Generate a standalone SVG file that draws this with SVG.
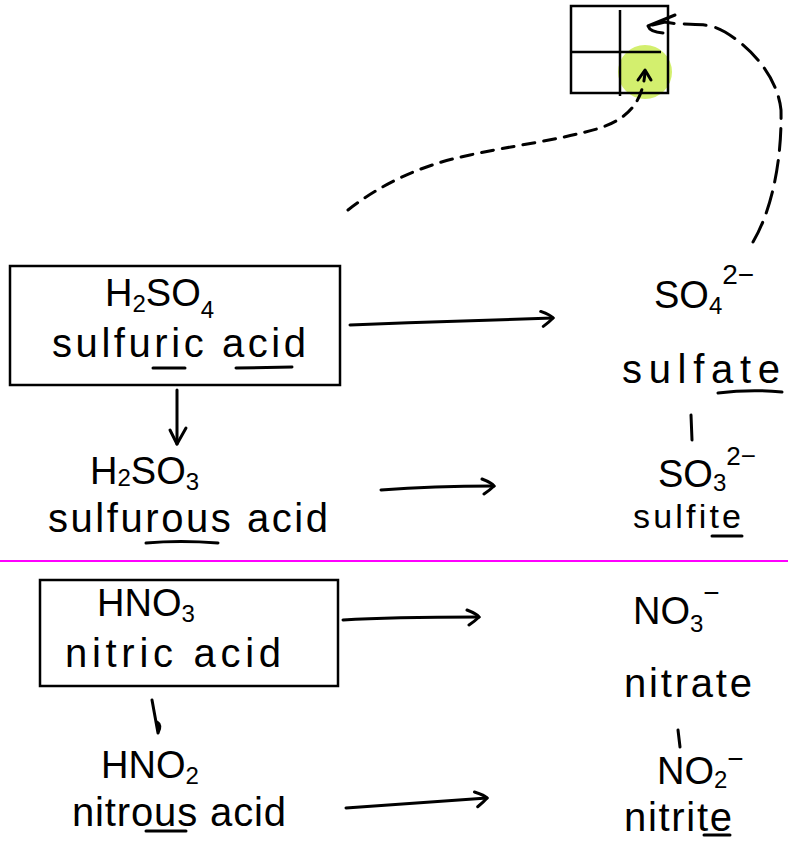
<svg xmlns="http://www.w3.org/2000/svg" width="788" height="845" viewBox="0 0 788 845">
<style>
.ln{fill:none;stroke:#000;stroke-width:3;stroke-linecap:round;stroke-linejoin:round}
.box{fill:#fff;stroke:#000;stroke-width:2.5}
.t{font-family:"Liberation Sans","DejaVu Sans",sans-serif;fill:#000}
.big{font-size:38px}
.wd{font-size:40px}
.sm{font-size:24px}
.ul{fill:none;stroke:#000;stroke-width:3;stroke-linecap:round}
</style>
<defs>
<marker id="ah" viewBox="-14 -10 16 20" markerWidth="16" markerHeight="20" refX="0" refY="0" orient="auto" markerUnits="userSpaceOnUse">
<path d="M-12,-7 Q-2,-3 0,0 Q-4,4 -10,8" fill="none" stroke="#000" stroke-width="3" stroke-linecap="round"/>
</marker>
</defs>
<rect width="788" height="845" fill="#fff"/>

<g id="grid">
<circle cx="645" cy="72" r="27" fill="#d3ef6e"/>
<rect x="571" y="6" width="97" height="87" fill="none" stroke="#000" stroke-width="2.5"/>
<line x1="620" y1="10" x2="620" y2="96" stroke="#000" stroke-width="2.5"/>
<line x1="571" y1="52" x2="661" y2="52" stroke="#000" stroke-width="2.5"/>
</g>

<g id="connectors">
<path class="ln" d="M348,210 C380,185 420,165 470,155 C510,146 560,140 600,128 C630,118 643,100 645,72" stroke-dasharray="12,9"/>
<path class="ln" d="M638,80 L645,70 L651,80"/>
<path class="ln" d="M753,242 C772,210 782,160 781,110 C778,80 755,50 725,32 C705,20 690,27 665,22 L648,26" stroke-dasharray="22,10"/>
<path class="ln" d="M675,15 L648,26 Q650,32 663,33"/>
<path class="ln" d="M350,325 C420,322 500,320 553,318" marker-end="url(#ah)"/>
<path class="ln" d="M177,390 L177,444"/>
<path class="ln" d="M170,430 L177,444 L186,428"/>
<path class="ln" d="M381,490 C420,487 460,486 494,486" marker-end="url(#ah)"/>
<path class="ln" d="M691,415 L692,440"/>
<path class="ln" d="M343,620 C390,617 440,617 479,617" marker-end="url(#ah)"/>
<path class="ln" d="M152,700 L158,733 Q162,725 157,722"/>
<path class="ln" d="M678,730 L680,747"/>
<path class="ln" d="M346,808 C400,804 450,801 487,798" marker-end="url(#ah)"/>
</g>

<line x1="0" y1="561" x2="788" y2="561" stroke="#ff00ff" stroke-width="2"/>

<g id="h2so4">
<rect class="box" x="10" y="266" width="330" height="119"/>
<text class="t big" x="105" y="306">H<tspan class="sm" dy="6">2</tspan><tspan dy="-6">SO</tspan><tspan class="sm" dy="12">4</tspan></text>
<text class="t wd" x="52" y="357" textLength="254">sulfuric acid</text>
<path class="ul" d="M153,368 L185,368 M236,368 L292,367"/>
</g>

<g id="so4">
<text class="t big" x="654" y="308">SO<tspan class="sm" dy="6">4</tspan><tspan style="font-size:28px" dy="-30">2−</tspan></text>
<text class="t wd" x="622" y="383" textLength="158">sulfate</text>
<path class="ul" d="M718,393 Q750,389 782,392"/>
</g>

<g id="h2so3">
<text class="t big" x="90" y="484">H<tspan class="sm" dy="2">2</tspan><tspan dy="-2">SO</tspan><tspan class="sm" dy="6">3</tspan></text>
<text class="t wd" x="48" y="532" textLength="280">sulfurous acid</text>
<path class="ul" d="M146,543 Q180,540 218,543"/>
</g>

<g id="so3">
<text class="t big" x="658" y="487">SO<tspan class="sm" dy="4">3</tspan><tspan style="font-size:26px" dy="-26">2−</tspan></text>
<text class="t" style="font-size:34px" x="633" y="528" textLength="108">sulfite</text>
<path class="ul" d="M712,536 L742,536"/>
</g>

<g id="hno3">
<rect class="box" x="40" y="580" width="298" height="106"/>
<text class="t big" x="97" y="616">HNO<tspan class="sm" dy="6">3</tspan></text>
<text class="t wd" x="65" y="667" textLength="216">nitric acid</text>
</g>

<g id="no3">
<text class="t big" x="633" y="624">NO<tspan class="sm" dy="8">3</tspan><tspan style="font-size:28px" dy="-30">−</tspan></text>
<text class="t wd" x="624" y="697" textLength="128">nitrate</text>
</g>

<g id="hno2">
<text class="t big" x="101" y="778">HNO<tspan class="sm" dy="6">2</tspan></text>
<text class="t wd" x="72" y="826" textLength="214">nitrous acid</text>
<path class="ul" d="M146,831 L186,831"/>
</g>

<g id="no2">
<text class="t big" x="657" y="784">NO<tspan class="sm" dy="4">2</tspan><tspan style="font-size:28px" dy="-20">−</tspan></text>
<text class="t wd" x="624" y="831" textLength="108">nitrite</text>
<path class="ul" d="M704,835 L730,835"/>
</g>
</svg>
